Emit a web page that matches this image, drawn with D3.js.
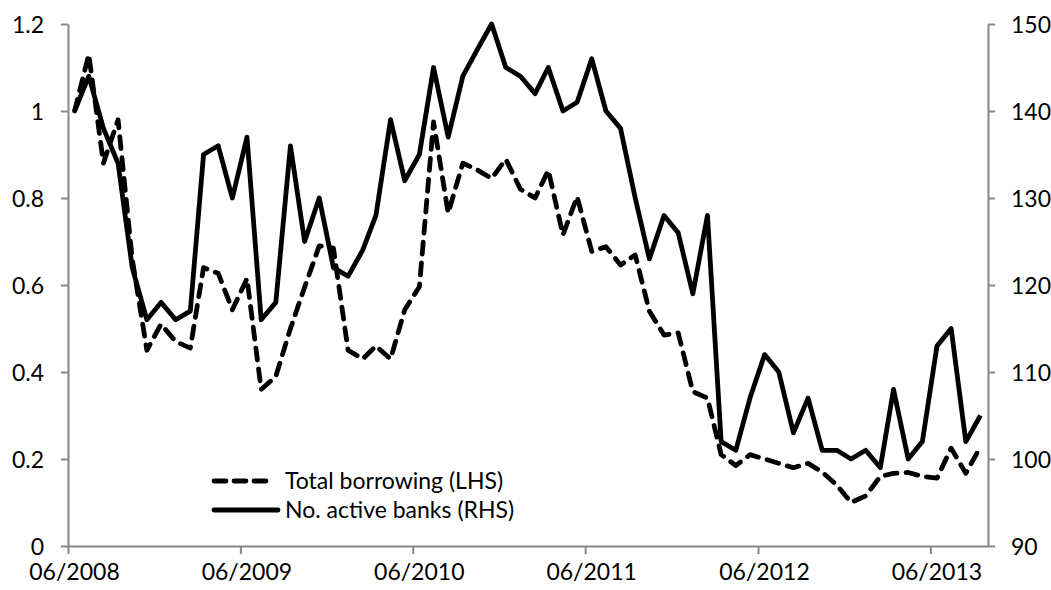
<!DOCTYPE html>
<html>
<head>
<meta charset="utf-8">
<script src="https://cdn.jsdelivr.net/npm/d3@7"></script>
<style>
  body { margin: 0; background: #fff; }
  svg text { font-family: Lato, "Open Sans", sans-serif; fill: #000; }
</style>
</head>
<body>
<svg id="chart" width="1051" height="590"></svg>
<script>
// monthly observations (plotted mid-month)
const months = [
  "2008-06", "2008-07", "2008-08", "2008-09", "2008-10", "2008-11", "2008-12",
  "2009-01", "2009-02", "2009-03", "2009-04", "2009-05", "2009-06", "2009-07", "2009-08", "2009-09", "2009-10", "2009-11", "2009-12",
  "2010-01", "2010-02", "2010-03", "2010-04", "2010-05", "2010-06", "2010-07", "2010-08", "2010-09", "2010-10", "2010-11", "2010-12",
  "2011-01", "2011-02", "2011-03", "2011-04", "2011-05", "2011-06", "2011-07", "2011-08", "2011-09", "2011-10", "2011-11", "2011-12",
  "2012-01", "2012-02", "2012-03", "2012-04", "2012-05", "2012-06", "2012-07", "2012-08", "2012-09", "2012-10", "2012-11", "2012-12",
  "2013-01", "2013-02", "2013-03", "2013-04", "2013-05", "2013-06", "2013-07", "2013-08", "2013-09"
];

// Total borrowing (LHS)
const borrowing = [
  1.00, 1.13, 0.88, 0.98, 0.66, 0.45, 0.51,
  0.47, 0.455, 0.64, 0.627, 0.543, 0.615, 0.36, 0.39, 0.50, 0.595, 0.69, 0.685,
  0.45, 0.43, 0.46, 0.43, 0.543, 0.596, 0.975, 0.765, 0.88, 0.865, 0.845, 0.889,
  0.82, 0.80, 0.864, 0.715, 0.803, 0.677, 0.688, 0.646, 0.669, 0.54, 0.485, 0.49,
  0.355, 0.34, 0.21, 0.185, 0.21, 0.20, 0.19, 0.18, 0.19, 0.17, 0.14, 0.10,
  0.115, 0.16, 0.167, 0.169, 0.16, 0.156, 0.225, 0.167, 0.228
];

// No. active banks (RHS)
const banks = [
  140, 144, 138, 134, 122, 116, 118,
  116, 117, 135, 136, 130, 137, 116, 118, 136, 125, 130, 122,
  121, 124, 128, 139, 132, 135, 145, 137, 144, 147, 150, 145,
  144, 142, 145, 140, 141, 146, 140, 138, 130, 123, 128, 126,
  119, 128, 102, 101, 107, 112, 110, 103, 107, 101, 101, 100,
  101, 99, 108, 100, 102, 113, 115, 102, 105
];

const tickLabels = ["06/2008", "06/2009", "06/2010", "06/2011", "06/2012", "06/2013"];
const leftTicks = [0, 0.2, 0.4, 0.6, 0.8, 1, 1.2];
const rightTicks = [90, 100, 110, 120, 130, 140, 150];

const svg = d3.select("#chart");
const plotLeft = 68, plotRight = 988, plotTop = 24, plotBottom = 546;
const axisColor = "#868686";
const fontSize = 23;

const parseMonth = d3.timeParse("%Y-%m");
const parseTick = d3.timeParse("%m/%Y");
const dates = months.map(m => d3.timeDay.offset(parseMonth(m), 14));

const x = d3.scaleTime()
  .domain([parseTick("06/2008"), parseTick("10/2013")])
  .range([plotLeft, plotRight]);
const yL = d3.scaleLinear().domain([0, 1.2]).range([plotBottom, plotTop]);
const yR = d3.scaleLinear().domain([90, 150]).range([plotBottom, plotTop]);

// axes
const xAxis = d3.axisBottom(x)
  .tickValues(tickLabels.map(parseTick))
  .tickFormat(d3.timeFormat("%m/%Y"))
  .tickSize(8).tickSizeOuter(0);
const gx = svg.append("g").attr("transform", `translate(0,${plotBottom})`).call(xAxis);

const gl = svg.append("g").attr("transform", `translate(${plotLeft},0)`)
  .call(d3.axisLeft(yL).tickValues(leftTicks).tickFormat(d3.format("~g")).tickSize(7).tickSizeOuter(0));

const gr = svg.append("g").attr("transform", `translate(${plotRight},0)`)
  .call(d3.axisRight(yR).tickValues(rightTicks).tickSize(7).tickSizeOuter(0));

[gx, gl, gr].forEach(g => {
  g.select(".domain").attr("stroke", axisColor).attr("stroke-width", 2);
  g.selectAll(".tick line").attr("stroke", axisColor).attr("stroke-width", 2);
  g.selectAll(".tick text").attr("font-size", fontSize).attr("fill", "#000");
});
gx.selectAll(".tick text").attr("y", 18).attr("dy", "0.71em").attr("dx", 6);
gl.selectAll(".tick text").attr("x", -24).attr("dy", "0.35em");
gr.selectAll(".tick text").attr("x", 23).attr("dy", "0.35em");

// lines
const lineL = d3.line().x((d, i) => x(dates[i])).y(d => yL(d));
const lineR = d3.line().x((d, i) => x(dates[i])).y(d => yR(d));

svg.append("path")
  .datum(borrowing)
  .attr("d", lineL)
  .attr("fill", "none")
  .attr("stroke", "#000")
  .attr("stroke-width", 4.8)
  .attr("stroke-dasharray", "12,9")
  .attr("stroke-linecap", "round")
  .attr("stroke-linejoin", "round");

svg.append("path")
  .datum(banks)
  .attr("d", lineR)
  .attr("fill", "none")
  .attr("stroke", "#000")
  .attr("stroke-width", 4.8)
  .attr("stroke-linejoin", "round");

// legend
const legend = svg.append("g");
legend.append("line")
  .attr("x1", 214).attr("x2", 270).attr("y1", 481).attr("y2", 481)
  .attr("stroke", "#000").attr("stroke-width", 4.8)
  .attr("stroke-dasharray", "12,8").attr("stroke-linecap", "round");
legend.append("text").attr("x", 285).attr("y", 481).attr("dy", "0.35em")
  .attr("font-size", fontSize).text("Total borrowing (LHS)");
legend.append("line")
  .attr("x1", 214).attr("x2", 278).attr("y1", 510).attr("y2", 510)
  .attr("stroke", "#000").attr("stroke-width", 4.8).attr("stroke-linecap", "round");
legend.append("text").attr("x", 285).attr("y", 510).attr("dy", "0.35em")
  .attr("font-size", fontSize).text("No. active banks (RHS)");
</script>
</body>
</html>
